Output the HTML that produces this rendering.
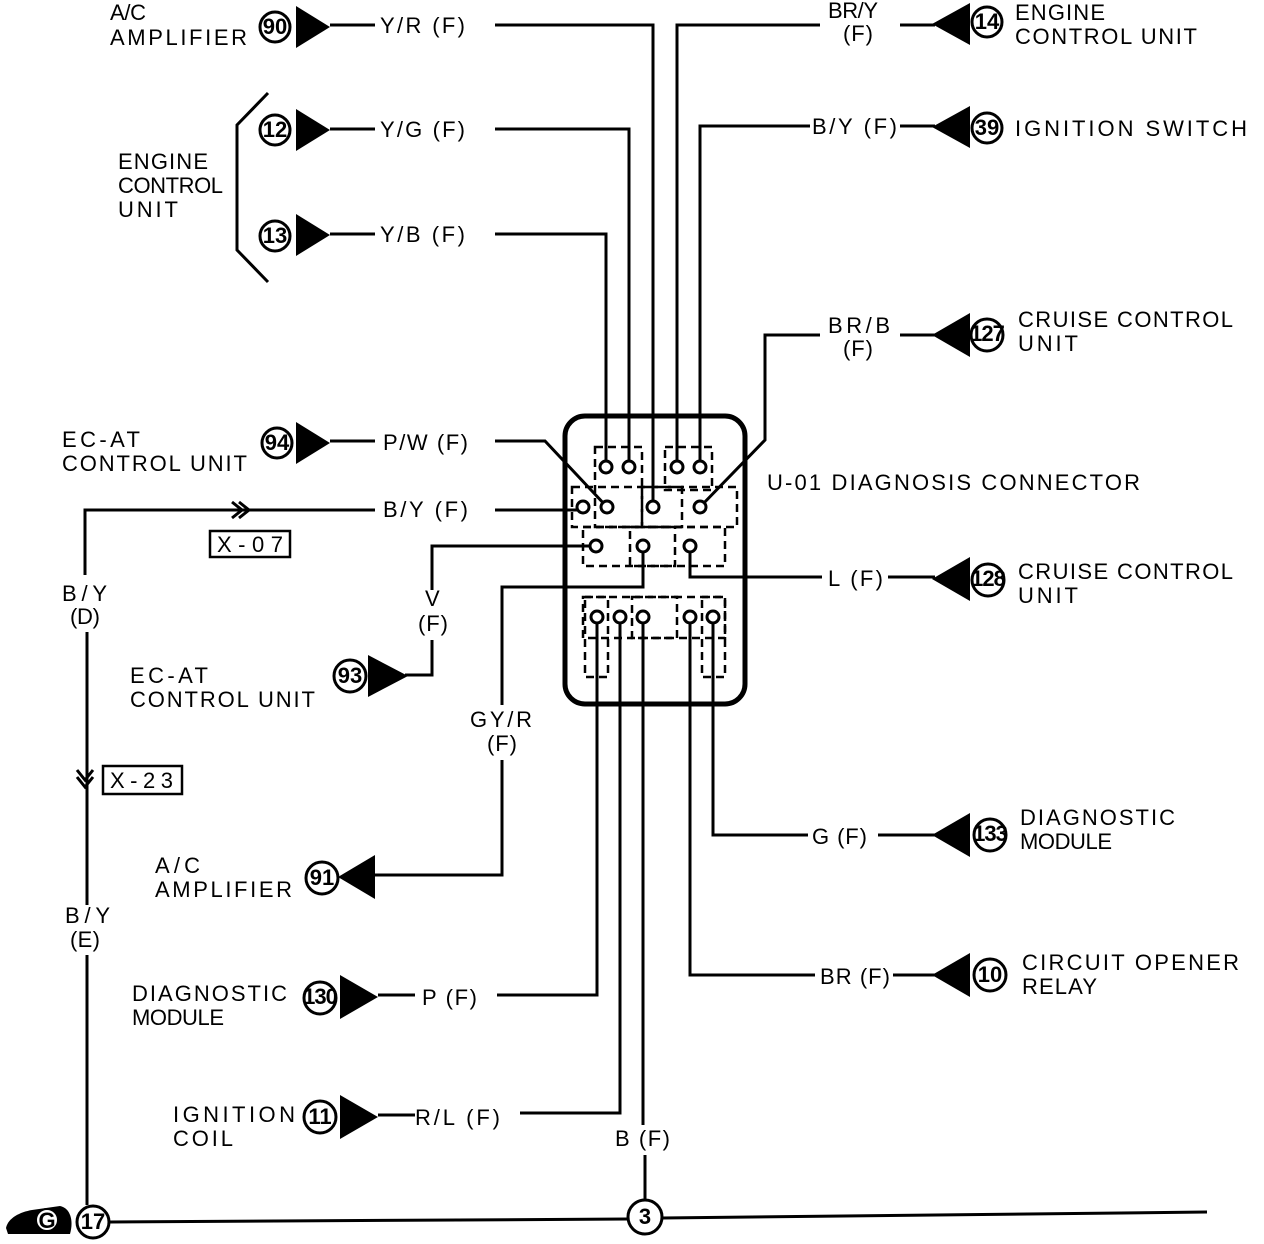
<!DOCTYPE html>
<html><head><meta charset="utf-8"><style>
html,body{margin:0;padding:0;background:#fff;}
svg{display:block}
text{font-family:"Liberation Sans",sans-serif;font-size:22px;fill:#000;}
</style></head><body>
<svg width="1264" height="1244" viewBox="0 0 1264 1244" xmlns="http://www.w3.org/2000/svg">
<g fill="none" stroke="#000" stroke-width="3">
<polyline points="330,25 375,25"/><polyline points="495,25 653,25 653,507"/>
<polyline points="677,467 677,25 820,25"/><polyline points="900,25 935,25"/>
<polyline points="330,129 375,129"/><polyline points="495,129 629,129 629,467"/>
<polyline points="700,467 700,126 810,126"/><polyline points="900,126 935,126"/>
<polyline points="268,93 237,125 237,250 268,282"/>
<polyline points="330,234 375,234"/><polyline points="495,234 606,234 606,467"/>
<polyline points="700,507 765,440 765,335 820,335"/><polyline points="900,335 935,335"/>
<polyline points="330,441 375,441"/><polyline points="495,441 545,441 607,507"/>
<polyline points="85,575 85,510 375,510"/><polyline points="495,510 583,510"/>
<polyline points="596,546 432,546 432,590"/><polyline points="432,640 432,675 405,675"/>
<polyline points="643,546 643,587 502,587 502,705"/><polyline points="502,760 502,875 375,875"/>
<polyline points="690,546 690,577 822,577"/><polyline points="888,577 935,577"/>
<polyline points="713,617 713,835 808,835"/><polyline points="878,835 935,835"/>
<polyline points="690,617 690,975 815,975"/><polyline points="893,975 935,975"/>
<polyline points="597,617 597,995 497,995"/><polyline points="378,995 415,995"/>
<polyline points="620,617 620,1113 520,1113"/><polyline points="378,1115 415,1115"/>
<polyline points="643,617 643,1125"/><polyline points="645,1155 645,1200"/>
<polyline points="87,632 87,905"/><polyline points="87,955 87,1205"/>
<polyline points="110,1222 628,1219"/><polyline points="662,1218 1207,1212"/>
<polyline points="232,502 242,510 232,518"/><polyline points="239,502 249,510 239,518"/>
<polyline points="77,770 85,780 93,770"/><polyline points="77,777 85,787 93,777"/>
<rect x="210" y="531" width="80" height="26" stroke-width="2.5"/>
<rect x="103" y="766" width="79" height="28" stroke-width="2.5"/>
<rect x="565" y="416" width="180" height="288" rx="20" stroke-width="5"/>
<g stroke-dasharray="8,5" stroke-width="2.5">
<rect x="595" y="447" width="47" height="80"/>
<rect x="665" y="447" width="47" height="43"/>
<rect x="572" y="487" width="165" height="40"/>
<rect x="642" y="487" width="40" height="40"/>
<rect x="583" y="527" width="142" height="39"/>
<rect x="630" y="527" width="45" height="39"/>
<rect x="583" y="597" width="142" height="41"/>
<rect x="585" y="597" width="23" height="80"/>
<rect x="702" y="597" width="23" height="80"/>
<rect x="632" y="597" width="45" height="41"/>
</g>
</g>
<g fill="#fff" stroke="#000" stroke-width="3">
<circle cx="606" cy="467" r="6"/><circle cx="629" cy="467" r="6"/><circle cx="677" cy="467" r="6"/><circle cx="700" cy="467" r="6"/>
<circle cx="583" cy="507" r="6"/><circle cx="607" cy="507" r="6"/><circle cx="653" cy="507" r="6"/><circle cx="700" cy="507" r="6"/>
<circle cx="596" cy="546" r="6"/><circle cx="643" cy="546" r="6"/><circle cx="690" cy="546" r="6"/>
<circle cx="597" cy="617" r="6"/><circle cx="620" cy="617" r="6"/><circle cx="643" cy="617" r="6"/><circle cx="690" cy="617" r="6"/><circle cx="713" cy="617" r="6"/>
</g>
<g fill="#000">
<polygon points="296,6 296,48 330,27"/>
<polygon points="296,109 296,151 330,130"/>
<polygon points="296,214 296,256 330,235"/>
<polygon points="296,422 296,464 330,443"/>
<polygon points="368,655 368,697 408,676"/>
<polygon points="340,975 340,1019 378,997"/>
<polygon points="340,1095 340,1139 378,1117"/>
<polygon points="375,855 375,899 338,877"/>
<polygon points="970,3 970,45 932,24"/>
<polygon points="970,106 970,148 932,127"/>
<polygon points="970,313 970,357 932,335"/>
<polygon points="970,557 970,601 932,579"/>
<polygon points="970,813 970,857 932,835"/>
<polygon points="970,953 970,997 932,975"/>
<path d="M6,1228 C8,1218 20,1212 32,1210 L60,1206 C70,1208 74,1220 70,1234 L8,1234 Z"/>
</g>
<circle cx="47" cy="1220" r="11" fill="#fff" stroke="#000" stroke-width="2"/>
<text x="47" y="1228" text-anchor="middle" font-weight="bold" font-size="20">G</text>
<g fill="#fff" stroke="#000" stroke-width="3">
<circle cx="275" cy="27" r="15"/><circle cx="275" cy="130" r="15"/><circle cx="275" cy="236" r="15"/><circle cx="277" cy="443" r="15"/>
<circle cx="350" cy="676" r="16"/><circle cx="322" cy="878" r="16"/><circle cx="320" cy="998" r="16"/><circle cx="320" cy="1117" r="16"/>
<circle cx="987" cy="22" r="15"/><circle cx="987" cy="128" r="15"/><circle cx="987" cy="335" r="16"/><circle cx="988" cy="580" r="16"/>
<circle cx="990" cy="835" r="16"/><circle cx="990" cy="975" r="16"/>
<circle cx="93" cy="1222" r="16"/><circle cx="645" cy="1217" r="17"/>
</g>
<g text-anchor="middle" font-size="18" font-weight="bold">
<text x="275" y="34">90</text><text x="275" y="137">12</text><text x="275" y="243">13</text><text x="277" y="450">94</text>
<text x="350" y="683">93</text><text x="322" y="885">91</text><text x="320" y="1117" dy="7">11</text>
<text x="987" y="29">14</text><text x="987" y="135">39</text>
<text x="990" y="982">10</text><text x="93" y="1229">17</text><text x="645" y="1224">3</text>
</g>
<g text-anchor="middle" font-size="15" font-weight="bold" letter-spacing="-1">
<text x="320" y="1004">130</text><text x="987" y="341">127</text><text x="988" y="586">128</text><text x="990" y="841">133</text>
</g>
<g>
<text x="110" y="20" textLength="36">A/C</text><text x="110" y="45" textLength="137">AMPLIFIER</text>
<text x="380" y="33" textLength="85">Y/R (F)</text>
<text x="828" y="18" textLength="50">BR/Y</text><text x="843" y="41" textLength="30">(F)</text>
<text x="1015" y="20" textLength="90">ENGINE</text><text x="1015" y="44" textLength="182">CONTROL UNIT</text>
<text x="380" y="137" textLength="85">Y/G (F)</text>
<text x="812" y="134" textLength="85">B/Y (F)</text>
<text x="1015" y="136" textLength="232">IGNITION SWITCH</text>
<text x="118" y="169" textLength="90">ENGINE</text><text x="118" y="193" textLength="105">CONTROL</text><text x="118" y="217" textLength="60">UNIT</text>
<text x="380" y="242" textLength="85">Y/B (F)</text>
<text x="828" y="333" textLength="62">BR/B</text><text x="843" y="356" textLength="30">(F)</text>
<text x="1018" y="327" textLength="215">CRUISE CONTROL</text><text x="1018" y="351" textLength="60">UNIT</text>
<text x="62" y="447" textLength="78">EC-AT</text><text x="62" y="471" textLength="185">CONTROL UNIT</text>
<text x="383" y="450" textLength="85">P/W (F)</text>
<text x="767" y="490" textLength="373">U-01 DIAGNOSIS CONNECTOR</text>
<text x="383" y="517" textLength="85">B/Y (F)</text>
<text x="217" y="552" textLength="66">X-07</text>
<text x="62" y="601" textLength="45">B/Y</text><text x="70" y="624" textLength="30">(D)</text>
<text x="425" y="606" textLength="14">V</text><text x="418" y="631" textLength="30">(F)</text>
<text x="828" y="586" textLength="55">L (F)</text>
<text x="1018" y="579" textLength="215">CRUISE CONTROL</text><text x="1018" y="603" textLength="60">UNIT</text>
<text x="130" y="683" textLength="78">EC-AT</text><text x="130" y="707" textLength="185">CONTROL UNIT</text>
<text x="470" y="727" textLength="62">GY/R</text><text x="487" y="751" textLength="30">(F)</text>
<text x="110" y="788" textLength="63">X-23</text>
<text x="812" y="844" textLength="55">G (F)</text>
<text x="1020" y="825" textLength="155">DIAGNOSTIC</text><text x="1020" y="849" textLength="92">MODULE</text>
<text x="155" y="873" textLength="45">A/C</text><text x="155" y="897" textLength="137">AMPLIFIER</text>
<text x="65" y="923" textLength="45">B/Y</text><text x="70" y="947" textLength="30">(E)</text>
<text x="820" y="984" textLength="70">BR (F)</text>
<text x="1022" y="970" textLength="217">CIRCUIT OPENER</text><text x="1022" y="994" textLength="75">RELAY</text>
<text x="132" y="1001" textLength="155">DIAGNOSTIC</text><text x="132" y="1025" textLength="92">MODULE</text>
<text x="422" y="1005" textLength="55">P (F)</text>
<text x="173" y="1122" textLength="122">IGNITION</text><text x="173" y="1146" textLength="60">COIL</text>
<text x="415" y="1125" textLength="85">R/L (F)</text>
<text x="615" y="1146" textLength="55">B (F)</text>
</g>
</svg>
</body></html>
